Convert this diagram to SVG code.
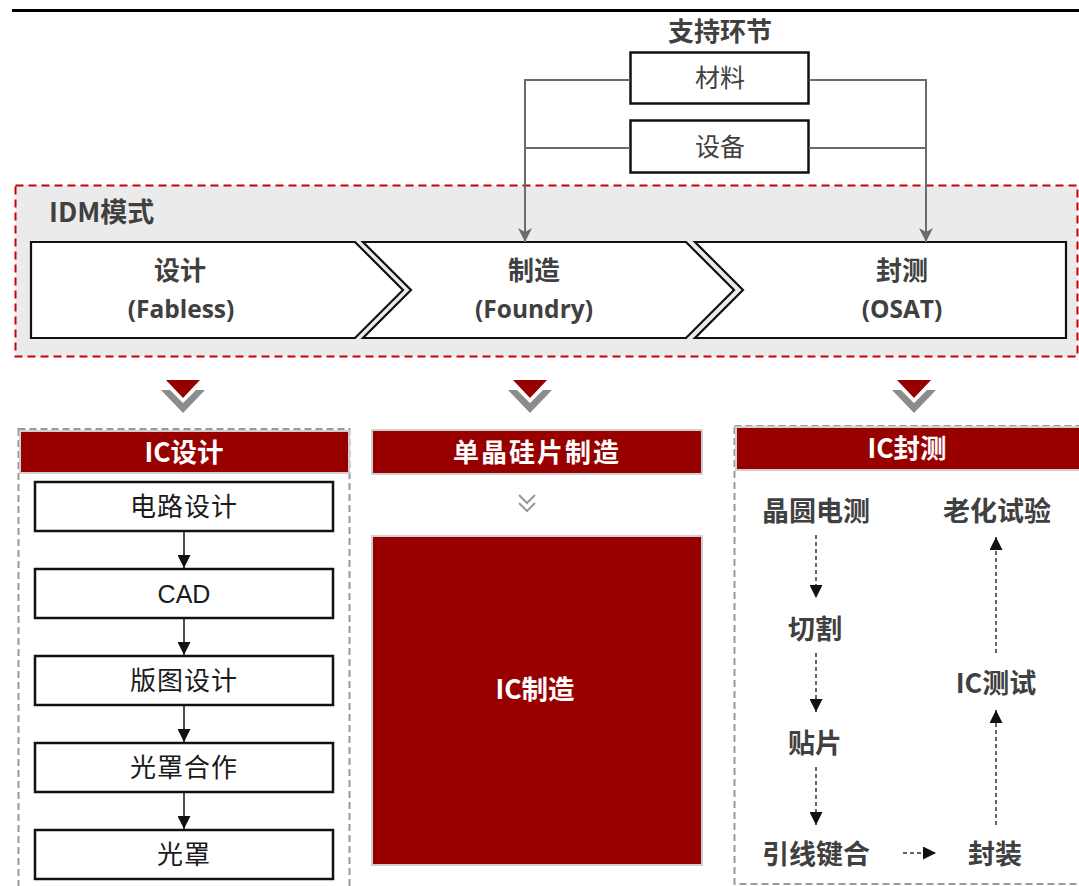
<svg xmlns="http://www.w3.org/2000/svg" width="1079" height="886" viewBox="0 0 1079 886">
<style>
  text{font-family:"Noto Sans CJK SC","Open Sans",sans-serif;text-anchor:middle}
  .hdr{font-weight:bold;font-size:26px;fill:#404040}
  .sup{font-size:25px;fill:#404040}
  .chev{fill:#fff;stroke:#111;stroke-width:2.2;stroke-linejoin:miter}
  .chevt{font-weight:bold;font-size:26px;fill:#404040}
  .lat{font-family:"Open Sans","Noto Sans CJK SC",sans-serif;font-weight:bold;font-size:24.5px;fill:#404040}
  .redh{fill:#980000;stroke:#d0d0d0;stroke-width:2}
  .wt{font-weight:bold;font-size:26.5px;fill:#fff}
  .box{fill:#fff;stroke:#111;stroke-width:2.5}
  .bt{font-size:26px;fill:#1a1a1a;letter-spacing:1px}
  .rt{font-weight:bold;font-size:27px;fill:#404040}
  .panel{fill:none;stroke:#999;stroke-width:2;stroke-dasharray:7 4}
  .sline{fill:none;stroke:#6b6b6b;stroke-width:2}
  .solid{stroke:#111;stroke-width:1.5;fill:none}
  .dash{stroke:#333;stroke-width:1.5;stroke-dasharray:4 3;fill:none}
  .tri{fill:#980000}
  .vg{fill:#8c8c8c}
</style>
<defs>
  <marker id="aGray" markerUnits="userSpaceOnUse" markerWidth="14" markerHeight="14" refX="14" refY="7" orient="auto">
    <path d="M0,0 L14,7 L0,14 L4,7 Z" fill="#6b6b6b"/>
  </marker>
  <marker id="aBlk" markerUnits="userSpaceOnUse" markerWidth="13" markerHeight="13" refX="13" refY="6.5" orient="auto">
    <path d="M0,0 L13,6.5 L0,13 Z" fill="#111"/>
  </marker>
</defs>

<!-- top rule -->
<line x1="12" y1="10.5" x2="1079" y2="10.5" stroke="#000" stroke-width="3"/>

<!-- IDM area -->
<g id="idm">
  <rect x="15.5" y="185.5" width="1062" height="171" fill="#ebebeb" stroke="#cc0000" stroke-width="2" stroke-dasharray="8 5"/>
  <text x="49" y="222" class="hdr" style="text-anchor:start;font-size:27px">IDM模式</text>
</g>

<g id="support-title"><text x="720" y="41" class="hdr">支持环节</text></g>
<g id="cailiao">
  <rect x="630.5" y="52.5" width="178" height="51" fill="#fff" stroke="#111" stroke-width="2.5"/>
  <text x="720" y="87" class="sup">材料</text>
</g>
<g id="shebei">
  <rect x="630.5" y="120.5" width="178" height="52" fill="#fff" stroke="#111" stroke-width="2.5"/>
  <text x="720" y="156" class="sup">设备</text>
</g>

<g id="design">
  <polygon class="chev" points="31,242 355,242 403,290 355,338 31,338"/>
  <text x="180" y="280" class="chevt">设计</text>
  <text x="181" y="318" class="lat">(Fabless)</text>
</g>
<g id="foundry">
  <polygon class="chev" points="363,242 686,242 734,290 686,338 363,338 411,290"/>
  <text x="534" y="280" class="chevt">制造</text>
  <text x="534" y="318" class="lat">(Foundry)</text>
</g>
<g id="osat">
  <polygon class="chev" points="695,242 1066,242 1066,338 695,338 743,290"/>
  <text x="902" y="280" class="chevt">封测</text>
  <text x="902" y="318" class="lat">(OSAT)</text>
</g>

<!-- down markers -->
<g id="down-markers">
  <polygon class="vg" points="161,390 170,390 183,403 196,390 205,390 183,413"/>
  <polygon class="tri" points="166,380 200,380 183,398"/>
  <polygon class="vg" points="508,390 517,390 530,403 543,390 552,390 530,413"/>
  <polygon class="tri" points="513,380 547,380 530,398"/>
  <polygon class="vg" points="892,390 901,390 914,403 927,390 936,390 914,413"/>
  <polygon class="tri" points="897,380 931,380 914,398"/>
</g>

<!-- left panel -->
<g id="ic-design">
  <rect class="panel" x="18.5" y="429" width="331" height="470"/>
  <rect class="redh" x="20" y="431" width="329" height="42"/>
  <text x="184" y="462" class="wt">IC设计</text>
</g>
<g id="n-dianlu"><rect class="box" x="35" y="482" width="298" height="49"/><text x="184" y="516" class="bt">电路设计</text></g>
<g id="n-cad"><rect class="box" x="35" y="569" width="298" height="49"/><text x="184" y="603" class="bt" style="font-family:'Liberation Sans',Arial,sans-serif;font-size:25px;letter-spacing:0">CAD</text></g>
<g id="n-bantu"><rect class="box" x="35" y="656" width="298" height="49"/><text x="184" y="690" class="bt">版图设计</text></g>
<g id="n-guangzhaohz"><rect class="box" x="35" y="743" width="298" height="49"/><text x="184" y="777" class="bt">光罩合作</text></g>
<g id="n-guangzhao"><rect class="box" x="35" y="830" width="298" height="49"/><text x="184" y="864" class="bt">光罩</text></g>

<!-- middle panel -->
<g id="wafer">
  <rect class="redh" x="372" y="430" width="330" height="44"/>
  <text x="537" y="462" class="wt" style="font-size:26px;letter-spacing:2px">单晶硅片制造</text>
</g>
<g id="small-chev">
  <polyline points="519,495 527,503 535,495" fill="none" stroke="#999" stroke-width="2"/>
  <polyline points="519,503 527,511 535,503" fill="none" stroke="#999" stroke-width="2"/>
</g>
<g id="ic-fab">
  <rect x="372" y="536" width="330" height="329" fill="#980000" stroke="#d0d0d0" stroke-width="2"/>
  <text x="535" y="699" class="wt">IC制造</text>
</g>

<!-- right panel -->
<g id="ic-pack">
  <rect class="panel" x="734.5" y="426" width="360" height="458"/>
  <rect class="redh" x="736" y="427" width="345" height="43"/>
  <text x="907" y="458" class="wt">IC封测</text>
</g>
<g id="r-jyd"><text x="816" y="521" class="rt">晶圆电测</text></g>
<g id="r-qg"><text x="815" y="639" class="rt">切割</text></g>
<g id="r-tp"><text x="815" y="753" class="rt">贴片</text></g>
<g id="r-yx"><text x="816" y="864" class="rt">引线键合</text></g>
<g id="r-fz"><text x="995" y="864" class="rt">封装</text></g>
<g id="r-ic"><text x="996" y="693" class="rt">IC测试</text></g>
<g id="r-lh"><text x="997" y="521" class="rt">老化试验</text></g>

<!-- connectors -->
<g id="connectors">
  <polyline class="sline" points="630,80 525,80 525,242" marker-end="url(#aGray)"/>
  <line class="sline" x1="630" y1="148" x2="525" y2="148"/>
  <polyline class="sline" points="809,80 926,80 926,242" marker-end="url(#aGray)"/>
  <line class="sline" x1="809" y1="148" x2="926" y2="148"/>

  <line class="solid" x1="184" y1="531" x2="184" y2="568" marker-end="url(#aBlk)"/>
  <line class="solid" x1="184" y1="618" x2="184" y2="655" marker-end="url(#aBlk)"/>
  <line class="solid" x1="184" y1="705" x2="184" y2="742" marker-end="url(#aBlk)"/>
  <line class="solid" x1="184" y1="792" x2="184" y2="829" marker-end="url(#aBlk)"/>

  <line class="dash" x1="816" y1="535" x2="816" y2="598" marker-end="url(#aBlk)"/>
  <line class="dash" x1="816" y1="653" x2="816" y2="712" marker-end="url(#aBlk)"/>
  <line class="dash" x1="816" y1="767" x2="816" y2="825" marker-end="url(#aBlk)"/>
  <line class="dash" x1="903" y1="853" x2="936" y2="853" marker-end="url(#aBlk)"/>
  <line class="dash" x1="996" y1="825" x2="996" y2="710" marker-end="url(#aBlk)"/>
  <line class="dash" x1="996" y1="653" x2="996" y2="537" marker-end="url(#aBlk)"/>
</g>
</svg>
